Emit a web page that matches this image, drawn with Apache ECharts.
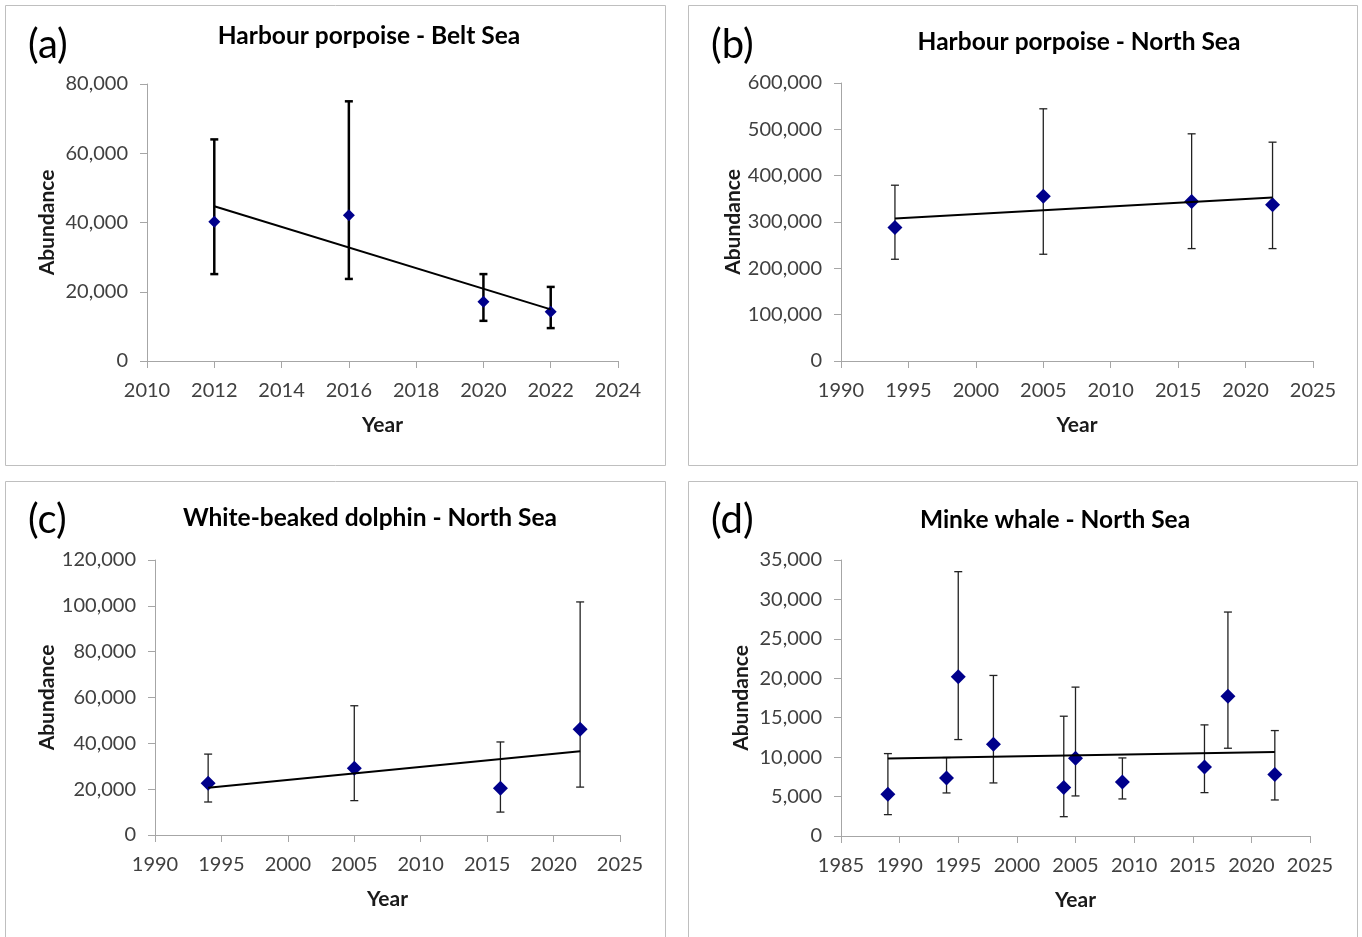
<!DOCTYPE html>
<html>
<head>
<meta charset="utf-8">
<script src="https://cdn.jsdelivr.net/npm/echarts@6.0.0/dist/echarts.min.js"></script>
<style>
html,body{margin:0;padding:0;background:#fff;}
#chart{width:1362px;height:937px;}
</style>
</head>
<body>
<div id="chart"></div>
<script>
// ---- Data ----
const panelLabels = ['(a)', '(b)', '(c)', '(d)'];
const titles = ['Harbour porpoise - Belt Sea', 'Harbour porpoise - North Sea', 'White-beaked dolphin - North Sea', 'Minke whale - North Sea'];

const yearsA = [2012, 2016, 2020, 2022];
const abundA = [40200, 42100, 17100, 14200];
const lowA   = [25100, 23700, 11600, 9500];
const highA  = [64000, 75000, 25100, 21400];
const trendYearsA = [2012, 2022];
const trendA = [44700, 14900];

const yearsB = [1994, 2005, 2016, 2022];
const abundB = [288000, 355700, 344200, 337000];
const lowB   = [219600, 230400, 242600, 242600];
const highB  = [379400, 544300, 490300, 472300];
const trendYearsB = [1994, 2022];
const trendB = [307400, 352800];

const yearsC = [1994, 2005, 2016, 2022];
const abundC = [22550, 29100, 20400, 46100];
const lowC   = [14400, 15000, 10000, 20900];
const highC  = [35300, 56400, 40600, 101700];
const trendYearsC = [1994, 2022];
const trendC = [20650, 36500];

const yearsD = [1989, 1994, 1995, 1998, 2004, 2005, 2009, 2016, 2018, 2022];
const abundD = [5290, 7360, 20190, 11640, 6140, 9860, 6860, 8760, 17730, 7790];
const lowD   = [2710, 5460, 12230, 6730, 2450, 5080, 4700, 5500, 11130, 4570];
const highD  = [10450, 9950, 33520, 20360, 15190, 18880, 9900, 14090, 28400, 13370];
const trendYearsD = [1989, 2022];
const trendD = [9820, 10660];

// axis ranges
const xMin = [2010, 1990, 1990, 1985];
const xMax = [2024, 2025, 2025, 2025];
const xInt = [2, 5, 5, 5];
const yMax = [80000, 600000, 120000, 35000];
const yInt = [20000, 100000, 20000, 5000];

// ---- Layout ----
const grids = [
  {left: 147, top: 84, width: 471, height: 277},
  {left: 841, top: 83, width: 472, height: 278},
  {left: 155, top: 560, width: 465, height: 275},
  {left: 841, top: 560, width: 469, height: 276}
];
const boxes = [
  {x: 5.5, y: 5.5, w: 660, h: 460},
  {x: 688.5, y: 5.5, w: 669, h: 460},
  {x: 5.5, y: 481.5, w: 660, h: 470},
  {x: 688.5, y: 481.5, w: 669, h: 470}
];
const titlePos = [[369, 36], [1079, 42], [370, 518], [1055, 520]];
const labelPos = [[28, 45], [711, 45], [28, 520], [711, 520]];

const panels = [
  {years: yearsA, abund: abundA, low: lowA, high: highA, ty: trendYearsA, tv: trendA, sym: 12, ebw: 2.5, ebc: '#000'},
  {years: yearsB, abund: abundB, low: lowB, high: highB, ty: trendYearsB, tv: trendB, sym: 15, ebw: 1.3, ebc: '#222'},
  {years: yearsC, abund: abundC, low: lowC, high: highC, ty: trendYearsC, tv: trendC, sym: 15, ebw: 1.3, ebc: '#222'},
  {years: yearsD, abund: abundD, low: lowD, high: highD, ty: trendYearsD, tv: trendD, sym: 15, ebw: 1.3, ebc: '#222'}
];

const FONT = 'Lato, "Open Sans", sans-serif';
const fmt = v => Number(v).toLocaleString('en-US');

const xAxes = [], yAxes = [], series = [], graphics = [];
panels.forEach((p, i) => {
  xAxes.push({
    type: 'value', gridIndex: i, min: xMin[i], max: xMax[i], interval: xInt[i],
    splitLine: {show: false},
    axisLine: {show: true, onZero: false, lineStyle: {color: '#a6a6a6', width: 1}},
    axisTick: {show: true, length: 7, lineStyle: {color: '#a6a6a6'}},
    axisLabel: {color: '#404040', fontSize: 20, fontFamily: FONT, margin: 20, showMinLabel: true, showMaxLabel: true,
      formatter: v => String(v)},
    name: 'Year', nameLocation: 'middle', nameGap: 54,
    nameTextStyle: {color: '#1a1a1a', fontSize: 21, fontWeight: 'bold', fontFamily: FONT}
  });
  yAxes.push({
    type: 'value', gridIndex: i, min: 0, max: yMax[i], interval: yInt[i],
    splitLine: {show: false},
    axisLine: {show: true, lineStyle: {color: '#a6a6a6', width: 1}},
    axisTick: {show: true, length: 7, lineStyle: {color: '#a6a6a6'}},
    axisLabel: {color: '#404040', fontSize: 20, fontFamily: FONT, margin: 19, formatter: fmt},
    name: 'Abundance', nameLocation: 'middle', nameGap: 89, nameRotate: 90,
    nameTextStyle: {color: '#1a1a1a', fontSize: 21, fontWeight: 'bold', fontFamily: FONT}
  });
  // error bars
  series.push({
    type: 'custom', xAxisIndex: i, yAxisIndex: i, z: 2,
    data: p.years.map((y, k) => [y, p.low[k], p.high[k]]),
    encode: {x: 0, y: [1, 2]},
    renderItem: (params, api) => {
      const lo = api.coord([api.value(0), api.value(1)]);
      const hi = api.coord([api.value(0), api.value(2)]);
      const hw = 4;
      const st = {stroke: p.ebc, lineWidth: p.ebw};
      return {
        type: 'group',
        children: [
          {type: 'line', shape: {x1: lo[0], y1: lo[1], x2: hi[0], y2: hi[1]}, style: st},
          {type: 'line', shape: {x1: lo[0] - hw, y1: lo[1], x2: lo[0] + hw, y2: lo[1]}, style: st},
          {type: 'line', shape: {x1: hi[0] - hw, y1: hi[1], x2: hi[0] + hw, y2: hi[1]}, style: st}
        ]
      };
    },
    silent: true
  });
  // points
  series.push({
    type: 'scatter', xAxisIndex: i, yAxisIndex: i, z: 3,
    symbol: 'diamond', symbolSize: p.sym,
    itemStyle: {color: '#00008b', opacity: 1},
    data: p.years.map((y, k) => [y, p.abund[k]])
  });
  // trend line
  series.push({
    type: 'line', xAxisIndex: i, yAxisIndex: i, z: 4,
    symbol: 'none', lineStyle: {color: '#000', width: 2},
    data: p.ty.map((y, k) => [y, p.tv[k]]),
    silent: true
  });
  graphics.push({
    type: 'rect', shape: {x: boxes[i].x, y: boxes[i].y, width: boxes[i].w, height: boxes[i].h},
    style: {fill: 'none', stroke: '#bfbfbf', lineWidth: 1}, z: -10
  });
  graphics.push({
    type: 'text', x: titlePos[i][0], y: titlePos[i][1],
    style: {text: titles[i], fill: '#000', font: 'bold 24.5px ' + FONT, align: 'center', verticalAlign: 'middle'}
  });
  graphics.push({
    type: 'text', x: labelPos[i][0], y: labelPos[i][1],
    style: {text: panelLabels[i], fill: '#000', font: '40px ' + FONT, align: 'left', verticalAlign: 'middle'}
  });
});

const chart = echarts.init(document.getElementById('chart'));
chart.setOption({
  animation: false,
  backgroundColor: '#fff',
  grid: grids.map(g => Object.assign({containLabel: false}, g)),
  xAxis: xAxes,
  yAxis: yAxes,
  series: series,
  graphic: graphics
});
</script>
</body>
</html>
